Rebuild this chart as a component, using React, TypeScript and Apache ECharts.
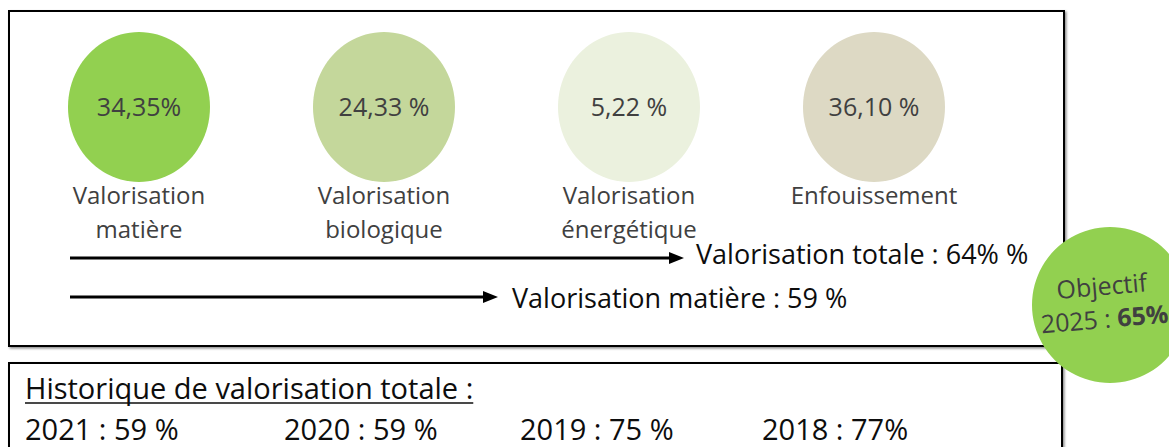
import React, { useEffect, useRef } from "react";
import * as echarts from "echarts";

const categories = ["Valorisation\nmatière", "Valorisation\nbiologique", "Valorisation\nénergétique", "Enfouissement"];
const shares = [34.35, 24.33, 5.22, 36.1];
const shareLabels = ["34,35%", "24,33 %", "5,22 %", "36,10 %"];
const circleColors = ["#92D050", "#C4D79B", "#EBF1DE", "#DDD9C4"];
const totalLines = ["Valorisation totale : 64% %", "Valorisation matière : 59 %"];
const objectiveTitle = "Objectif";
const objectiveYear = "2025";
const objectiveValue = "65%";
const historyTitle = "Historique de valorisation totale :";
const historyYears = ["2021", "2020", "2019", "2018"];
const historyValues = ["59 %", "59 %", "75 %", "77%"];

const FONT = '"Open Sans", "Noto Sans", sans-serif';

function measure(text: string, size: number): number {
  const c = document.createElement("canvas").getContext("2d");
  if (!c) return text.length * size * 0.5;
  c.font = `${size}px "Open Sans"`;
  return c.measureText(text).width;
}

export default function App() {
  const ref = useRef<HTMLDivElement>(null);
  useEffect(() => {
    document.body.style.margin = "0";
    if (!ref.current) return;
    const chart = echarts.init(ref.current, undefined, { renderer: "svg" });
    const histX = [25, 284, 520, 762];
    const titleW = measure(historyTitle, 29);
    const option: any = {
      animation: false,
      grid: { left: 16.5, top: 0, width: 980, height: 214 },
      xAxis: { type: "category", data: categories, show: false },
      yAxis: { type: "value", min: 0, max: 1, show: false },
      graphic: [
        {
          type: "rect",
          z: 0,
          shape: { x: 9, y: 11, width: 1055, height: 335 },
          style: {
            fill: "#fff",
            stroke: "#000",
            lineWidth: 2,
            shadowBlur: 2,
            shadowOffsetX: 1.5,
            shadowOffsetY: 1.5,
            shadowColor: "rgba(0,0,0,0.45)",
          },
        },
        {
          type: "rect",
          z: 0,
          shape: { x: 9, y: 363, width: 1053, height: 120 },
          style: {
            fill: "#fff",
            stroke: "#000",
            lineWidth: 2,
            shadowBlur: 2,
            shadowOffsetX: 1.5,
            shadowOffsetY: 1.5,
            shadowColor: "rgba(0,0,0,0.45)",
          },
        },
        // arrows
        { type: "line", z: 1, shape: { x1: 70, y1: 258, x2: 672, y2: 258 }, style: { stroke: "#000", lineWidth: 3 } },
        { type: "polygon", z: 1, shape: { points: [[669, 252], [684, 258], [669, 264]] }, style: { fill: "#000" } },
        { type: "line", z: 1, shape: { x1: 70, y1: 297, x2: 486, y2: 297 }, style: { stroke: "#000", lineWidth: 3 } },
        { type: "polygon", z: 1, shape: { points: [[483, 291], [498, 297], [483, 303]] }, style: { fill: "#000" } },
        {
          type: "text",
          z: 1,
          x: 696,
          y: 253,
          style: { text: totalLines[0], fill: "#0d0d0d", font: `27px ${FONT}`, textVerticalAlign: "middle" },
        },
        {
          type: "text",
          z: 1,
          x: 512,
          y: 297,
          style: { text: totalLines[1], fill: "#0d0d0d", font: `27px ${FONT}`, textVerticalAlign: "middle" },
        },
        // history
        {
          type: "text",
          z: 1,
          x: 25,
          y: 387,
          style: { text: historyTitle, fill: "#0d0d0d", font: `29px ${FONT}`, textVerticalAlign: "middle" },
        },
        { type: "line", z: 1, shape: { x1: 25, y1: 403, x2: 25 + titleW, y2: 403 }, style: { stroke: "#0d0d0d", lineWidth: 1.5 } },
        ...historyYears.map((y, i) => ({
          type: "text",
          z: 1,
          x: histX[i],
          y: 428,
          style: { text: `${y} : ${historyValues[i]}`, fill: "#0d0d0d", font: `29px ${FONT}`, textVerticalAlign: "middle" },
        })),
        // objective
        {
          type: "circle",
          z: 5,
          shape: { cx: 1110, cy: 305, r: 78 },
          style: { fill: "#92D050" },
        },
        {
          type: "group",
          z: 6,
          x: 1103,
          y: 301,
          rotation: 0.085,
          children: [
            {
              type: "text",
              z: 6,
              x: 0,
              y: -16,
              style: { text: objectiveTitle, fill: "#404040", font: `25px ${FONT}`, textAlign: "center", textVerticalAlign: "middle" },
            },
            {
              type: "text",
              z: 6,
              x: 0,
              y: 17,
              style: {
                text: `{n|${objectiveYear} : }{b|${objectiveValue}}`,
                textAlign: "center",
                textVerticalAlign: "middle",
                rich: {
                  n: { fill: "#404040", fontSize: 25, fontFamily: FONT },
                  b: { fill: "#404040", fontSize: 25, fontFamily: FONT, fontWeight: "bold" },
                },
              },
            },
          ],
        },
      ],
      series: [
        {
          type: "scatter",
          silent: true,
          z: 3,
          symbol: "circle",
          symbolSize: [142, 150],
          itemStyle: { opacity: 1 },
          data: shares.map((v, i) => ({ value: [i, 0.5], share: v, itemStyle: { color: circleColors[i], opacity: 1 } })),
          label: {
            show: true,
            position: "inside",
            formatter: (p: any) => shareLabels[p.dataIndex],
            color: "#404040",
            fontSize: 25,
            fontFamily: FONT,
            offset: [0, -1],
          },
        },
        {
          type: "scatter",
          silent: true,
          z: 4,
          symbol: "circle",
          symbolSize: 1,
          itemStyle: { color: "rgba(0,0,0,0)", opacity: 1 },
          data: categories.map((c, i) => ({ value: [i, 0.5], name: c })),
          label: {
            show: true,
            position: "inside",
            formatter: (p: any) => categories[p.dataIndex],
            color: "#404040",
            fontSize: 24,
            lineHeight: 34,
            fontFamily: FONT,
            align: "center",
            verticalAlign: "top",
            offset: [0, 70],
          },
        },
      ],
    };
    chart.setOption(option);
    return () => chart.dispose();
  }, []);
  return <div ref={ref} style={{ width: 1169, height: 447 }} />;
}
